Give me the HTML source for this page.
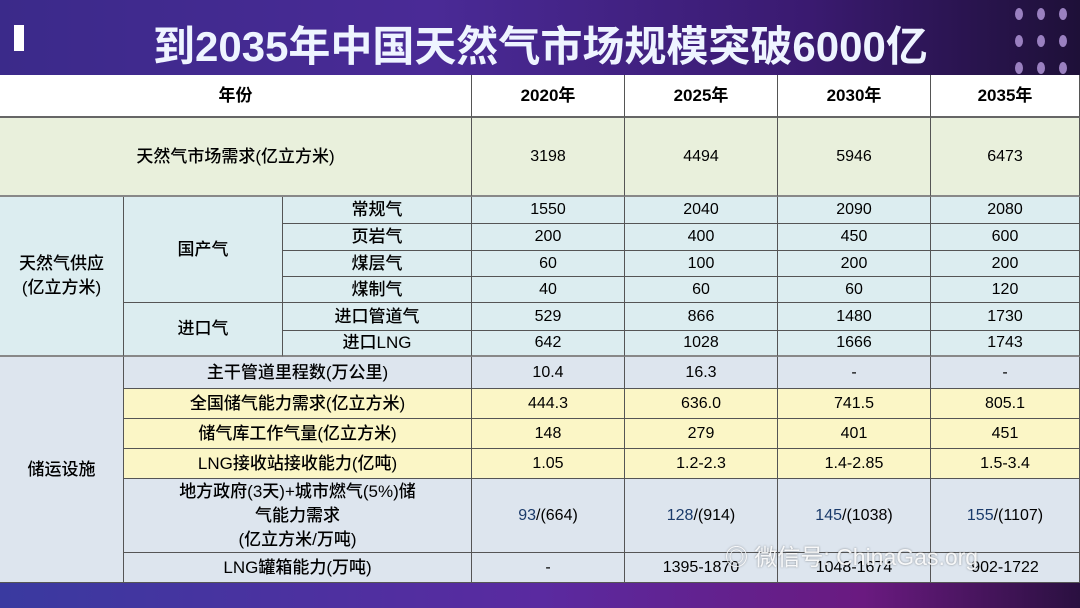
<!DOCTYPE html><html><head><meta charset="utf-8"><style>
body{margin:0;width:1080px;height:608px;overflow:hidden;position:relative;background:#2a1050;font-family:"Liberation Sans","Noto Sans CJK SC",sans-serif;}
.top{position:absolute;left:0;top:0;width:1080px;height:75px;background:linear-gradient(90deg,#3b2a8a 0%,#4a2a96 40%,#3a1a70 75%,#1e1038 100%);}
.bot{position:absolute;left:0;top:583px;width:1080px;height:25px;background:linear-gradient(90deg,#3a3aa0,#5a2aa0 50%,#6a1a80 80%,#2a1040);}
.title{position:absolute;left:153px;top:13px;font-size:42px;font-weight:bold;color:#eef4ff;font-family:"Liberation Sans","Noto Sans CJK SC",sans-serif;white-space:nowrap;}
.bar{position:absolute;left:14px;top:25px;width:10px;height:26px;background:#fff;}
.c{position:absolute;display:flex;align-items:center;justify-content:center;text-align:center;box-sizing:border-box;border-right:1px solid #555;border-bottom:1px solid #555;font-size:17px;color:#000;line-height:24px;font-weight:500;}
.h{font-weight:bold;}
.n{font-size:16px;}
.b{color:#1a3a6a;}
.dots{position:absolute;left:1015px;top:8px;}
.dots i{position:absolute;width:8px;height:12px;border-radius:50%;background:#9a80c0;}
</style></head><body>
<div class="top"></div>
<div class="bar"></div>
<div class="title">到2035年中国天然气市场规模突破6000亿</div>
<div class="dots"><i style="left:0;top:0"></i><i style="left:22px;top:0"></i><i style="left:44px;top:0"></i><i style="left:0;top:27px"></i><i style="left:22px;top:27px"></i><i style="left:44px;top:27px"></i><i style="left:0;top:54px"></i><i style="left:22px;top:54px"></i><i style="left:44px;top:54px"></i></div>

<div class="c h" style="left:0;top:75px;width:472px;height:43px;background:#fff;border-bottom:2px solid #666">年份</div>
<div class="c h" style="left:472px;top:75px;width:153px;height:43px;background:#fff;border-bottom:2px solid #666">2020年</div>
<div class="c h" style="left:625px;top:75px;width:153px;height:43px;background:#fff;border-bottom:2px solid #666">2025年</div>
<div class="c h" style="left:778px;top:75px;width:153px;height:43px;background:#fff;border-bottom:2px solid #666">2030年</div>
<div class="c h" style="left:931px;top:75px;width:149px;height:43px;background:#fff;border-bottom:2px solid #666">2035年</div>

<div class="c" style="left:0;top:118px;width:472px;height:79px;background:#e9f0dc;border-bottom:2px solid #888">天然气市场需求(亿立方米)</div>
<div class="c n" style="left:472px;top:118px;width:153px;height:79px;background:#e9f0dc;border-bottom:2px solid #888">3198</div>
<div class="c n" style="left:625px;top:118px;width:153px;height:79px;background:#e9f0dc;border-bottom:2px solid #888">4494</div>
<div class="c n" style="left:778px;top:118px;width:153px;height:79px;background:#e9f0dc;border-bottom:2px solid #888">5946</div>
<div class="c n" style="left:931px;top:118px;width:149px;height:79px;background:#e9f0dc;border-bottom:2px solid #888">6473</div>

<div class="c" style="left:0;top:197px;width:124px;height:160px;background:#dcedf0;border-bottom:2px solid #888">天然气供应<br>(亿立方米)</div>
<div class="c" style="left:124px;top:197px;width:159px;height:106px;background:#dcedf0">国产气</div>
<div class="c" style="left:124px;top:303px;width:159px;height:54px;background:#dcedf0;border-bottom:2px solid #888">进口气</div>

<div class="c" style="left:283px;top:197px;width:189px;height:27px;background:#dcedf0">常规气</div>
<div class="c n" style="left:472px;top:197px;width:153px;height:27px;background:#dcedf0">1550</div>
<div class="c n" style="left:625px;top:197px;width:153px;height:27px;background:#dcedf0">2040</div>
<div class="c n" style="left:778px;top:197px;width:153px;height:27px;background:#dcedf0">2090</div>
<div class="c n" style="left:931px;top:197px;width:149px;height:27px;background:#dcedf0">2080</div>

<div class="c" style="left:283px;top:224px;width:189px;height:27px;background:#dcedf0">页岩气</div>
<div class="c n" style="left:472px;top:224px;width:153px;height:27px;background:#dcedf0">200</div>
<div class="c n" style="left:625px;top:224px;width:153px;height:27px;background:#dcedf0">400</div>
<div class="c n" style="left:778px;top:224px;width:153px;height:27px;background:#dcedf0">450</div>
<div class="c n" style="left:931px;top:224px;width:149px;height:27px;background:#dcedf0">600</div>

<div class="c" style="left:283px;top:251px;width:189px;height:26px;background:#dcedf0">煤层气</div>
<div class="c n" style="left:472px;top:251px;width:153px;height:26px;background:#dcedf0">60</div>
<div class="c n" style="left:625px;top:251px;width:153px;height:26px;background:#dcedf0">100</div>
<div class="c n" style="left:778px;top:251px;width:153px;height:26px;background:#dcedf0">200</div>
<div class="c n" style="left:931px;top:251px;width:149px;height:26px;background:#dcedf0">200</div>

<div class="c" style="left:283px;top:277px;width:189px;height:26px;background:#dcedf0">煤制气</div>
<div class="c n" style="left:472px;top:277px;width:153px;height:26px;background:#dcedf0">40</div>
<div class="c n" style="left:625px;top:277px;width:153px;height:26px;background:#dcedf0">60</div>
<div class="c n" style="left:778px;top:277px;width:153px;height:26px;background:#dcedf0">60</div>
<div class="c n" style="left:931px;top:277px;width:149px;height:26px;background:#dcedf0">120</div>

<div class="c" style="left:283px;top:303px;width:189px;height:28px;background:#dcedf0">进口管道气</div>
<div class="c n" style="left:472px;top:303px;width:153px;height:28px;background:#dcedf0">529</div>
<div class="c n" style="left:625px;top:303px;width:153px;height:28px;background:#dcedf0">866</div>
<div class="c n" style="left:778px;top:303px;width:153px;height:28px;background:#dcedf0">1480</div>
<div class="c n" style="left:931px;top:303px;width:149px;height:28px;background:#dcedf0">1730</div>

<div class="c" style="left:283px;top:331px;width:189px;height:26px;background:#dcedf0;border-bottom:2px solid #888">进口LNG</div>
<div class="c n" style="left:472px;top:331px;width:153px;height:26px;background:#dcedf0;border-bottom:2px solid #888">642</div>
<div class="c n" style="left:625px;top:331px;width:153px;height:26px;background:#dcedf0;border-bottom:2px solid #888">1028</div>
<div class="c n" style="left:778px;top:331px;width:153px;height:26px;background:#dcedf0;border-bottom:2px solid #888">1666</div>
<div class="c n" style="left:931px;top:331px;width:149px;height:26px;background:#dcedf0;border-bottom:2px solid #888">1743</div>

<div class="c" style="left:0;top:357px;width:124px;height:226px;background:#dde5ee">储运设施</div>

<div class="c" style="left:124px;top:357px;width:348px;height:32px;background:#dde5ee">主干管道里程数(万公里)</div>
<div class="c n" style="left:472px;top:357px;width:153px;height:32px;background:#dde5ee">10.4</div>
<div class="c n" style="left:625px;top:357px;width:153px;height:32px;background:#dde5ee">16.3</div>
<div class="c n" style="left:778px;top:357px;width:153px;height:32px;background:#dde5ee">-</div>
<div class="c n" style="left:931px;top:357px;width:149px;height:32px;background:#dde5ee">-</div>

<div class="c" style="left:124px;top:389px;width:348px;height:30px;background:#fbf6c6">全国储气能力需求(亿立方米)</div>
<div class="c n" style="left:472px;top:389px;width:153px;height:30px;background:#fbf6c6">444.3</div>
<div class="c n" style="left:625px;top:389px;width:153px;height:30px;background:#fbf6c6">636.0</div>
<div class="c n" style="left:778px;top:389px;width:153px;height:30px;background:#fbf6c6">741.5</div>
<div class="c n" style="left:931px;top:389px;width:149px;height:30px;background:#fbf6c6">805.1</div>

<div class="c" style="left:124px;top:419px;width:348px;height:30px;background:#fbf6c6">储气库工作气量(亿立方米)</div>
<div class="c n" style="left:472px;top:419px;width:153px;height:30px;background:#fbf6c6">148</div>
<div class="c n" style="left:625px;top:419px;width:153px;height:30px;background:#fbf6c6">279</div>
<div class="c n" style="left:778px;top:419px;width:153px;height:30px;background:#fbf6c6">401</div>
<div class="c n" style="left:931px;top:419px;width:149px;height:30px;background:#fbf6c6">451</div>

<div class="c" style="left:124px;top:449px;width:348px;height:30px;background:#fbf6c6">LNG接收站接收能力(亿吨)</div>
<div class="c n" style="left:472px;top:449px;width:153px;height:30px;background:#fbf6c6">1.05</div>
<div class="c n" style="left:625px;top:449px;width:153px;height:30px;background:#fbf6c6">1.2-2.3</div>
<div class="c n" style="left:778px;top:449px;width:153px;height:30px;background:#fbf6c6">1.4-2.85</div>
<div class="c n" style="left:931px;top:449px;width:149px;height:30px;background:#fbf6c6">1.5-3.4</div>

<div class="c" style="left:124px;top:479px;width:348px;height:74px;background:#dde5ee">地方政府(3天)+城市燃气(5%)储<br>气能力需求<br>(亿立方米/万吨)</div>
<div class="c n" style="left:472px;top:479px;width:153px;height:74px;background:#dde5ee"><span class="b">93</span>/(664)</div>
<div class="c n" style="left:625px;top:479px;width:153px;height:74px;background:#dde5ee"><span class="b">128</span>/(914)</div>
<div class="c n" style="left:778px;top:479px;width:153px;height:74px;background:#dde5ee"><span class="b">145</span>/(1038)</div>
<div class="c n" style="left:931px;top:479px;width:149px;height:74px;background:#dde5ee"><span class="b">155</span>/(1107)</div>

<div class="c" style="left:124px;top:553px;width:348px;height:30px;background:#dde5ee">LNG罐箱能力(万吨)</div>
<div class="c n" style="left:472px;top:553px;width:153px;height:30px;background:#dde5ee">-</div>
<div class="c n" style="left:625px;top:553px;width:153px;height:30px;background:#dde5ee">1395-1870</div>
<div class="c n" style="left:778px;top:553px;width:153px;height:30px;background:#dde5ee">1048-1674</div>
<div class="c n" style="left:931px;top:553px;width:149px;height:30px;background:#dde5ee">902-1722</div>

<div style="position:absolute;left:725px;top:538px;font-size:23px;color:rgba(255,255,255,0.9);white-space:nowrap;text-shadow:0 0 2px rgba(0,0,0,0.4);">◎ 微信号: ChinaGas.org</div>
<div class="bot"></div>
</body></html>
